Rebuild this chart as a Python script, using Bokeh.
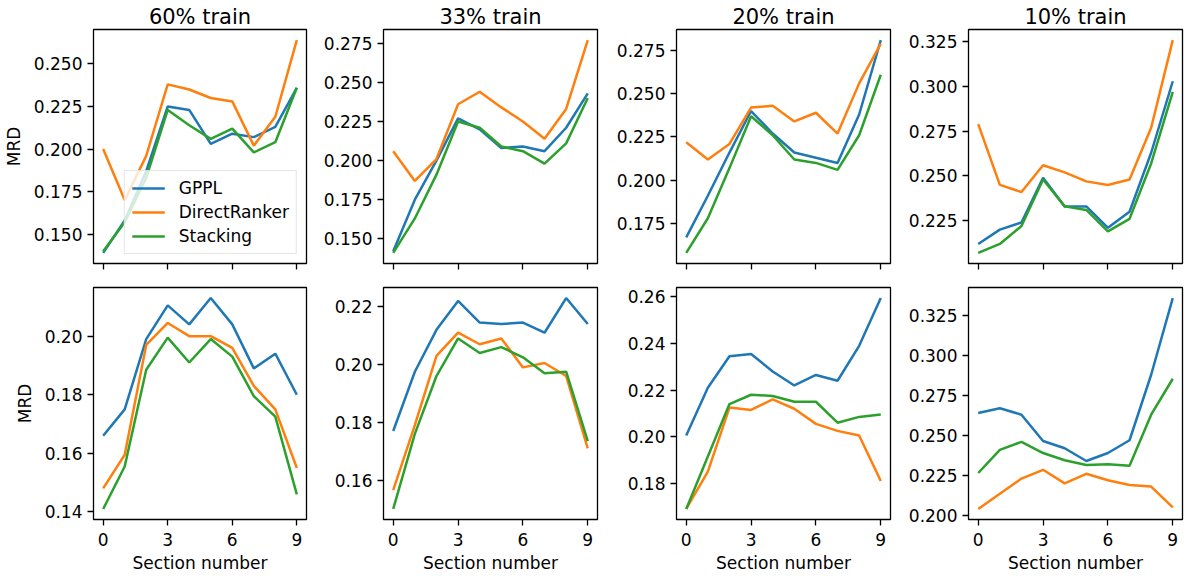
from bokeh.plotting import figure
from bokeh.layouts import gridplot
from bokeh.models import Range1d, FixedTicker, NumeralTickFormatter, Legend, LegendItem
from bokeh.embed import file_html
from bokeh.resources import INLINE

sections = list(range(10))
x_ticks = [0, 3, 6, 9]
panel_titles = ["60% train", "33% train", "20% train", "10% train"]
series_names = ["GPPL", "DirectRanker", "Stacking"]

# top row
gppl_top_60 = [0.139, 0.158, 0.187, 0.225, 0.223, 0.203, 0.209, 0.207, 0.213, 0.236]
ranker_top_60 = [0.200, 0.170, 0.196, 0.238, 0.235, 0.230, 0.228, 0.202, 0.219, 0.264]
stacking_top_60 = [0.140, 0.157, 0.183, 0.223, 0.214, 0.206, 0.212, 0.198, 0.204, 0.236]

gppl_top_33 = [0.142, 0.175, 0.200, 0.227, 0.220, 0.208, 0.209, 0.206, 0.221, 0.243]
ranker_top_33 = [0.206, 0.187, 0.201, 0.236, 0.244, 0.234, 0.225, 0.214, 0.233, 0.277]
stacking_top_33 = [0.141, 0.163, 0.191, 0.225, 0.221, 0.209, 0.206, 0.198, 0.211, 0.240]

gppl_top_20 = [0.167, 0.191, 0.216, 0.240, 0.227, 0.216, 0.213, 0.210, 0.238, 0.281]
ranker_top_20 = [0.222, 0.212, 0.221, 0.242, 0.243, 0.234, 0.239, 0.227, 0.256, 0.279]
stacking_top_20 = [0.158, 0.178, 0.207, 0.237, 0.226, 0.212, 0.210, 0.206, 0.226, 0.261]

gppl_top_10 = [0.212, 0.220, 0.224, 0.249, 0.233, 0.233, 0.221, 0.230, 0.263, 0.303]
ranker_top_10 = [0.279, 0.245, 0.241, 0.256, 0.252, 0.247, 0.245, 0.248, 0.277, 0.326]
stacking_top_10 = [0.207, 0.212, 0.222, 0.248, 0.233, 0.231, 0.219, 0.226, 0.257, 0.297]

# bottom row
gppl_bot_60 = [0.166, 0.175, 0.199, 0.2105, 0.204, 0.213, 0.204, 0.189, 0.194, 0.180]
ranker_bot_60 = [0.148, 0.1595, 0.197, 0.2045, 0.200, 0.200, 0.196, 0.183, 0.175, 0.155]
stacking_bot_60 = [0.141, 0.1555, 0.1885, 0.1995, 0.191, 0.199, 0.193, 0.1795, 0.1725, 0.146]

gppl_bot_33 = [0.177, 0.1975, 0.212, 0.222, 0.2145, 0.214, 0.2145, 0.211, 0.223, 0.214]
ranker_bot_33 = [0.1565, 0.179, 0.203, 0.211, 0.207, 0.209, 0.199, 0.2005, 0.196, 0.171]
stacking_bot_33 = [0.150, 0.176, 0.196, 0.209, 0.204, 0.206, 0.2025, 0.197, 0.1975, 0.1735]

gppl_bot_20 = [0.2005, 0.221, 0.2345, 0.2355, 0.228, 0.222, 0.2265, 0.224, 0.239, 0.2595]
ranker_bot_20 = [0.169, 0.185, 0.2125, 0.2115, 0.216, 0.212, 0.2055, 0.2025, 0.2005, 0.181]
stacking_bot_20 = [0.169, 0.1915, 0.214, 0.218, 0.2175, 0.215, 0.215, 0.206, 0.2085, 0.2095]

gppl_bot_10 = [0.264, 0.267, 0.263, 0.2465, 0.242, 0.234, 0.239, 0.247, 0.288, 0.336]
ranker_bot_10 = [0.204, 0.2135, 0.223, 0.2285, 0.220, 0.226, 0.222, 0.219, 0.218, 0.205]
stacking_bot_10 = [0.2265, 0.241, 0.246, 0.239, 0.2345, 0.2315, 0.232, 0.231, 0.263, 0.2855]

# y tick labels
yticks_top = [
    [0.150, 0.175, 0.200, 0.225, 0.250],
    [0.150, 0.175, 0.200, 0.225, 0.250, 0.275],
    [0.175, 0.200, 0.225, 0.250, 0.275],
    [0.225, 0.250, 0.275, 0.300, 0.325],
]
yticks_bot = [
    [0.14, 0.16, 0.18, 0.20],
    [0.16, 0.18, 0.20, 0.22],
    [0.18, 0.20, 0.22, 0.24, 0.26],
    [0.200, 0.225, 0.250, 0.275, 0.300, 0.325],
]
yfmt_top = ["0.000", "0.000", "0.000", "0.000"]
yfmt_bot = ["0.00", "0.00", "0.00", "0.000"]

top_data = [
    (gppl_top_60, ranker_top_60, stacking_top_60),
    (gppl_top_33, ranker_top_33, stacking_top_33),
    (gppl_top_20, ranker_top_20, stacking_top_20),
    (gppl_top_10, ranker_top_10, stacking_top_10),
]
bot_data = [
    (gppl_bot_60, ranker_bot_60, stacking_bot_60),
    (gppl_bot_33, ranker_bot_33, stacking_bot_33),
    (gppl_bot_20, ranker_bot_20, stacking_bot_20),
    (gppl_bot_10, ranker_bot_10, stacking_bot_10),
]

COLORS = ["#1f77b4", "#ff7f0e", "#2ca02c"]
FONT = "DejaVu Sans"
TICK_FS = "17px"

FRAME_W = 214
BORDER_LEFT = [92, 73, 75, 74]
BORDER_RIGHT = 4


def make_panel(col, top, data, yticks, yfmt):
    allv = [v for s in data for v in s]
    lo, hi = min(allv), max(allv)
    pad = (hi - lo) * 0.05
    mbl = BORDER_LEFT[col]
    if top:
        mbt, fh, mbb = 29, 234, 12
    else:
        mbt, fh, mbb = 12, 232, 56
    p = figure(width=mbl + FRAME_W + BORDER_RIGHT, height=mbt + fh + mbb,
               output_backend="svg", toolbar_location=None,
               x_range=Range1d(-0.45, 9.45), y_range=Range1d(lo - pad, hi + pad),
               min_border_left=mbl, min_border_right=BORDER_RIGHT, min_border_top=mbt, min_border_bottom=mbb,
               background_fill_color="white", border_fill_color="white")
    p.grid.visible = False
    p.outline_line_color = "black"
    p.outline_line_width = 1.3
    if top:
        p.title.text = panel_titles[col]
        p.title.align = "center"
        p.title.text_font = FONT
        p.title.text_font_size = "21px"
        p.title.text_font_style = "normal"
        p.title.text_color = "black"
        p.title.standoff = 2
    renderers = []
    for s, color in zip(data, COLORS):
        r = p.line(sections, s, line_color=color, line_width=2.5)
        renderers.append(r)
    for ax in (p.xaxis[0], p.yaxis[0]):
        ax.axis_line_color = None
        ax.major_tick_line_color = "black"
        ax.major_tick_line_width = 1.3
        ax.major_tick_out = 6
        ax.major_tick_in = 0
        ax.minor_tick_line_color = None
        ax.major_label_text_font = FONT
        ax.major_label_text_font_size = TICK_FS
        ax.major_label_text_color = "black"
        ax.major_label_standoff = 5
        ax.axis_label_text_font = FONT
        ax.axis_label_text_font_size = TICK_FS
        ax.axis_label_text_font_style = "normal"
        ax.axis_label_text_color = "black"
    p.xaxis[0].ticker = FixedTicker(ticks=x_ticks)
    p.yaxis[0].ticker = FixedTicker(ticks=yticks)
    p.yaxis[0].formatter = NumeralTickFormatter(format=yfmt)
    if top:
        p.xaxis[0].major_label_text_font_size = "1px"
        p.xaxis[0].major_label_text_color = None
        p.xaxis[0].major_label_standoff = 0
    else:
        p.xaxis[0].axis_label = "Section number"
        p.xaxis[0].axis_label_standoff = 4
        p.xaxis[0].major_label_standoff = 7
    if col == 0:
        p.yaxis[0].axis_label = "MRD"
        p.yaxis[0].axis_label_standoff = 7
    if top and col == 0:
        legend = Legend(items=[LegendItem(label=n, renderers=[r]) for n, r in zip(series_names, renderers)],
                        location="bottom_right")
        legend.label_text_font = FONT
        legend.label_text_font_size = TICK_FS
        legend.label_text_color = "black"
        legend.glyph_width = 33
        legend.glyph_height = 20
        legend.label_height = 20
        legend.spacing = 4
        legend.padding = 7
        legend.label_standoff = 14
        legend.margin = 9
        legend.border_line_color = "#cccccc"
        legend.border_line_width = 1
        legend.background_fill_alpha = 0.8
        p.add_layout(legend)
    return p


top_row = [make_panel(i, True, top_data[i], yticks_top[i], yfmt_top[i]) for i in range(4)]
bot_row = [make_panel(i, False, bot_data[i], yticks_bot[i], yfmt_bot[i]) for i in range(4)]

grid = gridplot([top_row, bot_row], toolbar_location=None)

open("out.html", "w").write(file_html(grid, INLINE))
